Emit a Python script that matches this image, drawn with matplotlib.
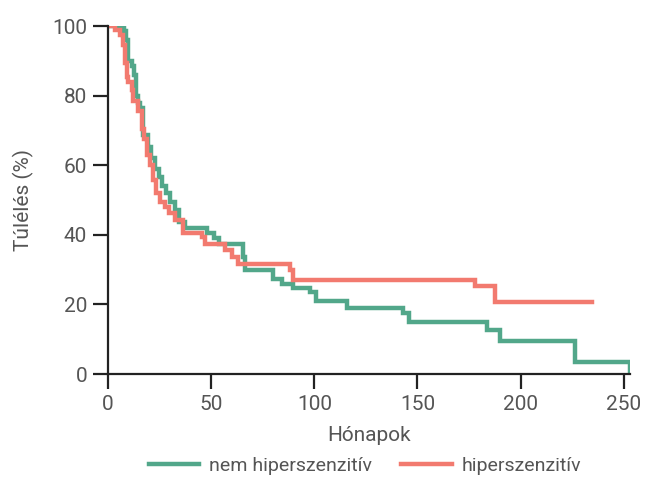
import matplotlib
matplotlib.use('Agg')
import matplotlib.pyplot as plt

# **** data (months, survival %) ****
green_t = [0, 7.8, 8.8, 9.8, 11.5, 12.5, 13.8, 14.7, 15.5, 16.8, 19.5, 21.0, 22.8, 24.5,
           26.0, 28.0, 30.0, 32.5, 34.5, 37.3, 47.8, 51.5, 53.9, 65.2, 66.4, 79.8, 84.1,
           89.8, 97.9, 100.8, 115.6, 142.8, 145.8, 183.5, 189.9, 226.3, 252.9]
green_s = [100, 98.5, 96, 90, 88.5, 86, 80, 78, 76.4, 68.7, 65.3, 62, 59, 56.5,
           54, 52, 49.5, 47, 43.8, 41.9, 40.6, 39, 37.5, 33.7, 29.9, 27.2, 26,
           24.8, 23.7, 21, 19.1, 17.4, 15, 12.6, 9.5, 3.5, 0]

red_t = [0, 3.6, 6.0, 7.4, 8.2, 9.1, 9.8, 11.5, 12.3, 14.7, 16.5, 17.5, 18.7, 20.3,
         22.0, 23.2, 25.2, 27.6, 29.7, 32.5, 36.5, 45.4, 47.0, 56.7, 59.9, 63.1,
         88.2, 89.8, 178.1, 187.5, 234.8]
red_s = [100, 98.8, 97.4, 94.5, 89.3, 85.4, 84, 81.6, 78.5, 75.5, 70.5, 67.5, 63, 60,
         55.7, 52, 49.5, 48.1, 46.2, 44.3, 40.6, 39.5, 37.5, 35.6, 33.7, 31.6,
         29.9, 27, 25.3, 20.8, 20.8]

labels = ['nem hiperszenzitív', 'hiperszenzitív']
xticks = [0, 50, 100, 150, 200, 250]
yticks = [0, 20, 40, 60, 80, 100]

# **** style ****
plt.rcParams['font.family'] = ['Roboto', 'DejaVu Sans']
green = '#52a78a'
red = '#f27a6f'
txt = '#555555'
fs = 15

fig = plt.figure(figsize=(6.48, 4.78), dpi=100)
ax = fig.add_axes([108 / 648, 1 - 374 / 478, (630 - 108) / 648, (374 - 26) / 478])

# **** step curves ****
ax.step(green_t, green_s, where='post',
        color=green, lw=3.2, label=labels[0], solid_joinstyle='miter')
ax.step(red_t, red_s, where='post',
        color=red, lw=3.2, label=labels[1], solid_joinstyle='miter')

ax.set_xlim(0, 253)
ax.set_ylim(0, 100)
ax.set_xticks(xticks)
ax.set_yticks(yticks)

for s in ['top', 'right']:
    ax.spines[s].set_visible(False)
for s in ['left', 'bottom']:
    ax.spines[s].set_color('#222222')
    ax.spines[s].set_linewidth(1.6)
ax.tick_params(length=11, width=1.6, color='#222222', labelsize=fs,
               labelcolor=txt, pad=4)

ax.set_xlabel('Hónapok', fontsize=fs, color=txt, labelpad=9)
ax.set_ylabel('Túlélés (%)', fontsize=fs, color=txt, labelpad=13)

# **** legend below ****
fig.legend(loc='center', bbox_to_anchor=(365 / 648, 1 - 466 / 478), ncol=2,
           frameon=False, fontsize=14, labelcolor=txt, handlelength=2.6,
           columnspacing=1.5, handletextpad=0.5)

fig.savefig('out.png', dpi=100)
